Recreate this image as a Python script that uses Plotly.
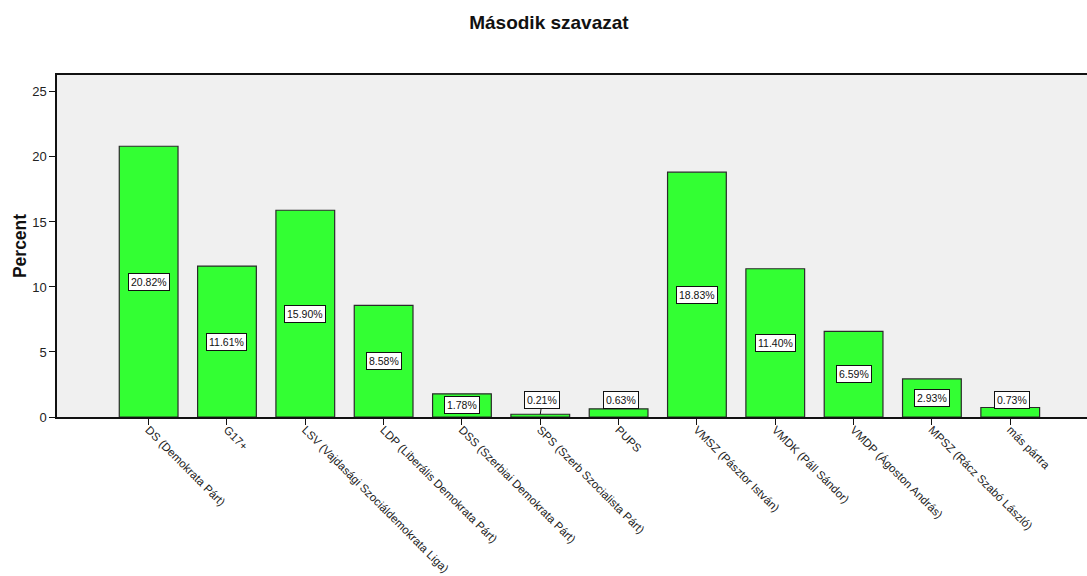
import plotly.graph_objects as go

categories = [
    "DS (Demokrata Párt)", "G17+", "LSV (Vajdasági Szociáldemokrata Liga)",
    "LDP (Liberális Demokrata Párt)", "DSS (Szerbiai Demokrata Párt)",
    "SPS (Szerb Szocialista Párt)", "PUPS", "VMSZ (Pásztor István)",
    "VMDK (Páll Sándor)", "VMDP (Ágoston András)", "MPSZ (Rácz Szabó László)",
    "más pártra",
]
percent = [20.82, 11.61, 15.90, 8.58, 1.78, 0.21, 0.63, 18.83, 11.40, 6.59, 2.93, 0.73]
y_ticks = [0, 5, 10, 15, 20, 25]

FONT = "Liberation Sans, Arial, sans-serif"

fig = go.Figure()
fig.add_trace(go.Bar(
    x=categories, y=percent, width=0.75,
    marker=dict(color="#33FF33", line=dict(color="#2a2a2a", width=1.2)),
    hoverinfo="x+y",
))

annotations = []
for i, (c, v) in enumerate(zip(categories, percent)):
    txt = f"{v:.2f}%"
    common = dict(text=txt, font=dict(family=FONT, size=10.5, color="#111"),
                  bgcolor="white", bordercolor="#111", borderwidth=1, borderpad=2,
                  xref="x", yref="y")
    if v >= 1.0:
        annotations.append(dict(x=c, y=v / 2, showarrow=False, **common))
    else:
        annotations.append(dict(x=c, y=v, showarrow=True, arrowhead=0, arrowwidth=1,
                                arrowcolor="#111", ax=2, ayref="y", ay=1.3, **common))

fig.update_layout(
    width=1087, height=576,
    margin=dict(l=57, r=0, t=75, b=159),
    paper_bgcolor="white", plot_bgcolor="#F0F0F0",
    showlegend=False,
    font=dict(family=FONT, color="#111"),
    title=dict(text="<b>Második szavazat</b>", font=dict(family=FONT, size=19, color="#111"),
               x=0.505, xref="container", xanchor="center",
               y=0.962, yref="container", yanchor="middle"),
    annotations=annotations,
)
fig.update_xaxes(
    type="category", range=[-1.17, 11.98], automargin=False,
    tickangle=45, tickfont=dict(family=FONT, size=11.5, color="#222"),
    ticks="outside", ticklen=6, tickcolor="#111", ticklabelstandoff=-6,
    showline=True, linecolor="#111", linewidth=1.5, mirror=True,
    showgrid=False, zeroline=False,
)
fig.update_yaxes(
    range=[0, 26.3], tickvals=y_ticks, automargin=False,
    tickfont=dict(family=FONT, size=13, color="#222"),
    ticks="outside", ticklen=6, tickcolor="#111",
    showline=True, linecolor="#111", linewidth=1.5, mirror=True,
    showgrid=False, zeroline=False,
    title=dict(text="<b>Percent</b>", font=dict(family=FONT, size=17.5, color="#111"), standoff=1),
)

fig.write_html("out.html", config={"displayModeBar": False},
               post_script="document.body.style.margin='0';")
